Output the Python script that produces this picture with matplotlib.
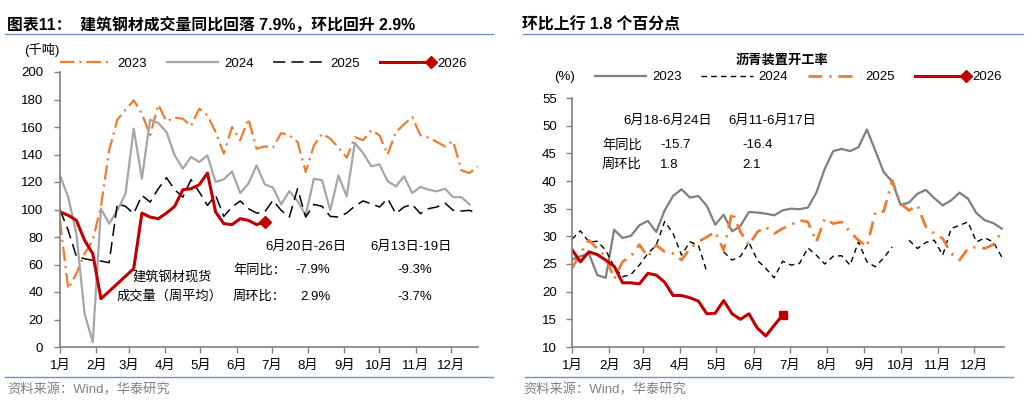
import numpy as np
import matplotlib
matplotlib.use("Agg")
import matplotlib.pyplot as plt
from matplotlib.lines import Line2D
from matplotlib.legend_handler import HandlerLine2D

plt.rcParams['font.family'] = ['Liberation Sans', 'Noto Sans CJK SC', 'DejaVu Sans']

# ---------------- 数据：建筑钢材成交量（千吨，周平均） ----------------
steel_2023 = [92, 42.4, 53.3, 67.9, 77.6, 102.3, 143, 165.3, 172.6, 179.4, 169.7, 154,
              176.2, 164.1, 166.8, 166, 160.7, 173.3, 168.5, 156.3, 140.6, 160, 150.3,
              166, 144.2, 145.9, 145, 155.6, 154, 149.1, 127.3, 146.6, 155.1, 151.5,
              145, 137.7, 152.7, 150.3, 157.6, 154, 139.9, 156.3, 161.9, 167.3, 154,
              152.2, 149.1, 145.9, 149.8, 128.5, 126.5, 131.4]
steel_2024 = [124.8, 109, 82.4, 24.2, 3.6, 100.6, 89.7, 99.4, 111.5, 158.8, 122.4, 165.3,
              162.9, 156.3, 139.4, 129.7, 138.2, 134.5, 139.4, 120, 121.9, 127.7, 112,
              118.8, 132.1, 118.3, 115.9, 103.7, 113.4, 106.2, 95.8, 122.4, 121.2, 99.4,
              124.8, 109.6, 148.4, 141.1, 131.4, 132.8, 120.7, 116.8, 124.1, 112, 116.4,
              114.4, 113.2, 115.1, 109, 109, 103.7]
steel_2025 = [99.9, 84.8, 65.9, 64.2, 63, 62.5, 61.3, 104.2, 102.3, 97, 110.3, 105.4,
              115.1, 123.1, 114.4, 109, 121.7, 112.7, 103, 110.3, 95, 101.8, 106.2,
              100.6, 97.4, 98.2, 106.7, 99.4, 94.5, 115.1, 94.5, 103.7, 102.3, 95, 94.5,
              97.4, 102.5, 106.2, 104.2, 101.8, 107.9, 97, 101.8, 103.7, 97, 100.6,
              101.8, 104.7, 99.4, 98.9, 99.4, 97]
steel_2026 = [98.2, 95.8, 92.1, 77.6, 67.9, 35.1, 40.5, 46, 51.5, 57, 97.4, 94.5, 93.3,
              97.4, 102.3, 114.4, 115.1, 118, 126.5, 98.2, 89.7, 89, 93.3, 92.1, 89, 90.9]

# ---------------- 数据：沥青装置开工率（%） ----------------
asph_2023 = [25.8, 26.4, 26.9, 23, 22.5, 31.2, 29.7, 30.1, 32, 32.8, 30.8, 34.7, 37.3,
             38.5, 37, 37.3, 35.5, 32.1, 33.9, 30.9, 31.9, 34.4, 34.3, 34.1, 33.8, 34.7,
             35, 34.9, 35.2, 37.9, 42.2, 45.4, 45.8, 45.4, 46.1, 49.3, 45.5, 41.6, 39.9,
             35.7, 36.1, 37.7, 38.4, 36.9, 35.6, 36.5, 37.9, 36.8, 34.2, 32.9, 32.4, 31.4]
asph_2024 = [29.5, 31, 29, 29.1, 27.5, 24.5, 22.7, 23.1, 24.8, 26.9, 28.4, 32.7, 30.5,
             26.6, 29, 28.4, 23.6, np.nan, 27.2, 25.7, 26.4, 28.9, 25.7, 24.2, 22.5, 25.5,
             24.8, 25.1, 27.9, 26.6, 25, 26.4, 26.5, 24.8, 29, 25.4, 24.5, 26.1, 28.1,
             np.nan, 29.3, 27.8, 28.9, 29.3, 26.6, 31.4, 32, 32.6, 29, 29.7, 29, 26.3]
asph_2025 = [24.2, 26.9, 29.3, 27.8, 26.3, 22.3, 25.4, 26.4, 28.5, 26.3, 28.4, 27.2, 26.9,
             25.7, 27.8, 29, 29.9, 30.8, 27.5, 34.4, 30.8, 28.4, 30.8, 31.7, 30.5, 31.4,
             32.1, 32.9, 32.6, 29, 33.2, 32.3, 32.6, 30.8, 29.3, 28.1, 34.4, 34.5, 40.1,
             35.9, 34.7, 35.6, 31.7, 30.5, 29.6, 26.9, 25.7, 27.8, 28.1, 27.8, 28.5, 30.8]
asph_2026 = [27.6, 25.4, 27.2, 26.7, 25.7, 24.6, 21.6, 21.6, 21.4, 23.3, 23, 21.7, 19.3,
             19.3, 18.9, 18.3, 16, 16.1, 18.4, 16, 15, 16, 13.4, 12, 13.9, 15.8]

month_days = [0, 31, 59, 90, 120, 151, 181, 212, 243, 273, 304, 334]
month_labels = ['1月', '2月', '3月', '4月', '5月', '6月', '7月', '8月', '9月', '10月', '11月', '12月']

ORANGE = '#ED7D31'
RED = '#C00000'
BLUE = '#6E93C2'
W, H = 1030, 403


def days(vals):
    return np.arange(len(vals)) * 7


def px(x, y):
    return x / W, 1 - y / H


class EndMarkerHandler(HandlerLine2D):
    # 图例：线段末端带菱形
    def create_artists(self, legend, orig_handle, xdescent, ydescent, width, height, fontsize, trans):
        y = height / 2 - ydescent
        x0, x1 = -xdescent, width - xdescent
        line = Line2D([x0, x1], [y, y], color=orig_handle.get_color(),
                      lw=orig_handle.get_linewidth())
        mk = Line2D([x1], [y], marker='D', markersize=orig_handle.get_markersize(),
                    color=orig_handle.get_color(), lw=0)
        line.set_transform(trans)
        mk.set_transform(trans)
        return [line, mk]


def style_axes(ax, ypad):
    for s in ['top', 'right']:
        ax.spines[s].set_visible(False)
    for s in ['left', 'bottom']:
        ax.spines[s].set_color('#808080')
        ax.spines[s].set_linewidth(1.2)
    ax.tick_params(axis='both', direction='out', length=4, width=1, color='#808080',
                   labelsize=9.5, labelcolor='black')
    ax.tick_params(axis='y', pad=ypad)
    ax.tick_params(axis='x', pad=5)
    ax.set_xticks(month_days)
    ax.set_xticklabels(month_labels)


fig = plt.figure(figsize=(W / 100, H / 100), dpi=100)

# ================= 左图 =================
ax1 = fig.add_axes([60 / W, 1 - 347 / H, 418.3 / W, 275 / H])
l23, = ax1.plot(days(steel_2023), steel_2023, color=ORANGE, lw=1.6, dashes=(6.5, 2.2, 1, 2.2))
l24, = ax1.plot(days(steel_2024), steel_2024, color='#A6A6A6', lw=1.6)
l25, = ax1.plot(days(steel_2025), steel_2025, color='black', lw=1.1, dashes=(8, 4))
l26, = ax1.plot(days(steel_2026), steel_2026, color=RED, lw=2.2)
ax1.plot(days(steel_2026)[-1:], steel_2026[-1:], marker='D', color=RED, markersize=6, lw=0)
ax1.set_ylim(0, 200)
ax1.set_yticks(range(0, 201, 20))
ax1.set_xlim(0, 357.5)
style_axes(ax1, 8)

h26 = Line2D([], [], color=RED, lw=2.2, markersize=6)
ax1.legend([l23, l24, l25, h26], ['2023', '2024', '2025', '2026'], ncol=4,
           frameon=False, fontsize=9.5, handlelength=3.9, handletextpad=0.45,
           columnspacing=1.5, loc='center left', bbox_to_anchor=(-0.013, 1.03),
           borderaxespad=0, handler_map={h26: EndMarkerHandler()})

# ================= 右图 =================
ax2 = fig.add_axes([572 / W, 1 - 347 / H, 431.5 / W, 249 / H])
r23, = ax2.plot(days(asph_2023), asph_2023, color='#7F7F7F', lw=1.6)
r24, = ax2.plot(days(asph_2024), asph_2024, color='black', lw=1.0, dashes=(4, 3))
r25, = ax2.plot(days(asph_2025), asph_2025, color=ORANGE, lw=2.0, dashes=(5, 2.5, 0.8, 2.5))
r26, = ax2.plot(days(asph_2026), asph_2026, color=RED, lw=2.2)
ax2.plot(days(asph_2026)[-1:], asph_2026[-1:], marker='s', color=RED, markersize=6, lw=0)
ax2.set_ylim(10, 55)
ax2.set_yticks(range(10, 56, 5))
ax2.set_xlim(0, 358.5)
style_axes(ax2, 7)

g26 = Line2D([], [], color=RED, lw=2.2, markersize=6)
ax2.legend([r23, r24, r25, g26], ['2023', '2024', '2025', '2026'], ncol=4,
           frameon=False, fontsize=9.5, handlelength=3.9, handletextpad=0.45,
           columnspacing=1.5, loc='center left', bbox_to_anchor=(0.04, 1.083),
           borderaxespad=0, handler_map={g26: EndMarkerHandler()})

# ================= 标题、线条、文字 =================
fig.text(*px(7, 25), '图表11：  建筑钢材成交量同比回落 7.9%，环比回升 2.9%',
         fontsize=11.4, fontweight='bold', va='center', ha='left')
fig.text(*px(522, 25), '环比上行 1.8 个百分点',
         fontsize=11.4, fontweight='bold', va='center', ha='left')
for x0, x1, y in [(5, 493, 34), (523, 1023, 34), (5, 493, 377), (525, 1013, 377)]:
    fig.add_artist(Line2D([x0 / W, x1 / W], [1 - y / H, 1 - y / H], color=BLUE, lw=1))

fig.text(*px(7, 390), '资料来源：Wind，华泰研究', fontsize=9.5, color='#808080', va='center')
fig.text(*px(523, 390), '资料来源：Wind，华泰研究', fontsize=9.5, color='#808080', va='center')

fig.text(*px(24, 50), '(千吨)', fontsize=9.5, va='center')
fig.text(*px(554, 77), '(%)', fontsize=9.5, va='center')
fig.text(*px(782, 60), '沥青装置开工率', fontsize=9.5, fontweight='bold', va='center', ha='center')

# 左图注释
fig.text(*px(265, 247), '6月20日-26日', fontsize=9.5, va='center')
fig.text(*px(370, 247), '6月13日-19日', fontsize=9.5, va='center')
fig.text(*px(233, 270), '年同比：', fontsize=9.5, va='center')
fig.text(*px(233, 297), '周环比：', fontsize=9.5, va='center')
fig.text(*px(295, 270), '-7.9%', fontsize=9.5, va='center')
fig.text(*px(300, 297), '2.9%', fontsize=9.5, va='center')
fig.text(*px(397, 270), '-9.3%', fontsize=9.5, va='center')
fig.text(*px(397, 297), '-3.7%', fontsize=9.5, va='center')
fig.text(*px(172, 278), '建筑钢材现货', fontsize=9.5, va='center', ha='center')
fig.text(*px(170, 296), '成交量（周平均）', fontsize=9.5, va='center', ha='center')

# 右图注释
fig.text(*px(623, 121), '6月18-6月24日', fontsize=9.5, va='center')
fig.text(*px(728, 121), '6月11-6月17日', fontsize=9.5, va='center')
fig.text(*px(602, 145), '年同比', fontsize=9.5, va='center')
fig.text(*px(602, 165), '周环比', fontsize=9.5, va='center')
fig.text(*px(660, 145), '-15.7', fontsize=9.5, va='center')
fig.text(*px(660, 165), '1.8', fontsize=9.5, va='center')
fig.text(*px(742, 145), '-16.4', fontsize=9.5, va='center')
fig.text(*px(742, 165), '2.1', fontsize=9.5, va='center')

fig.savefig('out.png', dpi=100)
